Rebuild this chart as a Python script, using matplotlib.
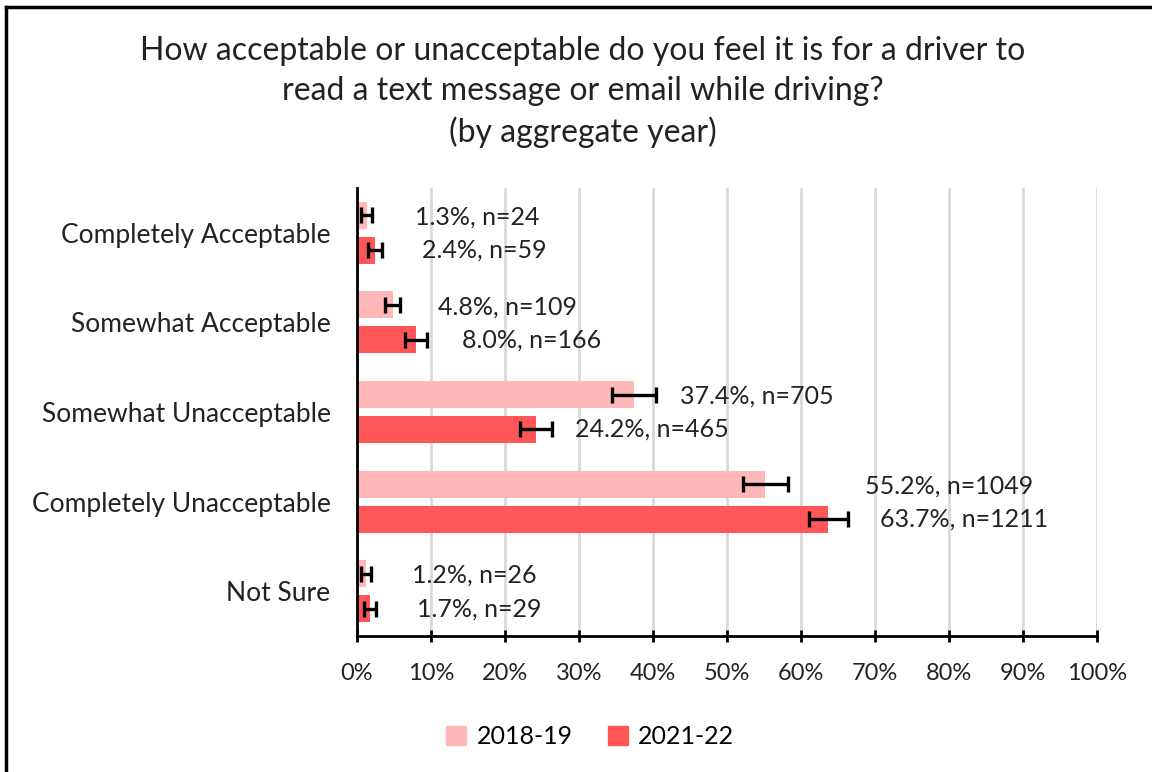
import numpy as np
import matplotlib.pyplot as plt
from matplotlib.lines import Line2D

plt.rcParams['font.family'] = ['Lato', 'DejaVu Sans']

## data
categories = ['Completely Acceptable', 'Somewhat Acceptable', 'Somewhat Unacceptable',
              'Completely Unacceptable', 'Not Sure']
pct_1819 = [1.3, 4.8, 37.4, 55.2, 1.2]
pct_2122 = [2.4, 8.0, 24.2, 63.7, 1.7]
n_1819 = [24, 109, 705, 1049, 26]
n_2122 = [59, 166, 465, 1211, 29]
err_1819 = [0.7, 1.0, 3.0, 3.1, 0.7]
err_2122 = [0.95, 1.5, 2.2, 2.6, 0.8]
# where the data labels sit (x, in %)
lab_x_1819 = [7.8, 11.0, 43.6, 68.6, 7.5]
lab_x_2122 = [8.8, 14.2, 29.4, 70.7, 8.1]

c_light = '#FFB7B7'
c_dark = '#FF5757'
txt = '#222222'

fig = plt.figure(figsize=(11.52, 7.72), dpi=100)
ax = fig.add_axes([357/1152, 1 - 636/772, 740/1152, 448/772])

y = np.arange(len(categories))
h = 0.30
off = 0.195

ax.barh(y - off, pct_1819, height=h, color=c_light, zorder=2)
ax.barh(y + off, pct_2122, height=h, color=c_dark, zorder=2)
ax.errorbar(pct_1819, y - off, xerr=err_1819, fmt='none', ecolor='black',
            elinewidth=2.4, capsize=5.5, capthick=2.4, zorder=3)
ax.errorbar(pct_2122, y + off, xerr=err_2122, fmt='none', ecolor='black',
            elinewidth=2.4, capsize=5.5, capthick=2.4, zorder=3)

for i in range(len(categories)):
    ax.text(lab_x_1819[i], y[i] - off + 0.02, f'{pct_1819[i]:.1f}%, n={n_1819[i]}',
            va='center', ha='left', fontsize=18, color=txt)
    ax.text(lab_x_2122[i], y[i] + off, f'{pct_2122[i]:.1f}%, n={n_2122[i]}',
            va='center', ha='left', fontsize=18, color=txt)

ax.set_xlim(0, 100)
ax.set_ylim(4.5, -0.5)
ax.set_xticks(np.arange(0, 101, 10))
ax.set_xticklabels([f'{v}%' for v in range(0, 101, 10)], fontsize=17, color=txt)
ax.set_yticks(y)
ax.set_yticklabels(categories, fontsize=19, color=txt)
ax.tick_params(axis='y', length=0, pad=19)
ax.tick_params(axis='x', length=9, width=2, direction='inout', pad=15)
ax.grid(axis='x', color='#D9D9D9', linewidth=2, zorder=0)
ax.set_axisbelow(True)
for s in ['top', 'right']:
    ax.spines[s].set_visible(False)
ax.spines['left'].set_linewidth(2)
ax.spines['bottom'].set_linewidth(2)

fig.text(583/1152, 1 - 92/772,
         'How acceptable or unacceptable do you feel it is for a driver to\n'
         'read a text message or email while driving?\n(by aggregate year)',
         ha='center', va='center', fontsize=23, color=txt, linespacing=1.4)

handles = [plt.Rectangle((0, 0), 1, 1, color=c_light), plt.Rectangle((0, 0), 1, 1, color=c_dark)]
fig.legend(handles, ['2018-19', '2021-22'], loc='center', bbox_to_anchor=(590/1152, 1 - 737/772),
           ncol=2, frameon=False, fontsize=18, handlelength=0.8, handleheight=0.8,
           handletextpad=0.4, columnspacing=1.4)

# frame around the picture (only top and left show)
fig.add_artist(Line2D([6/1152, 6/1152], [0, 1 - 7/772], color='black', lw=2.5, transform=fig.transFigure))
fig.add_artist(Line2D([6/1152, 1], [1 - 7/772, 1 - 7/772], color='black', lw=2.5, transform=fig.transFigure))

fig.savefig('out.png', dpi=100)
